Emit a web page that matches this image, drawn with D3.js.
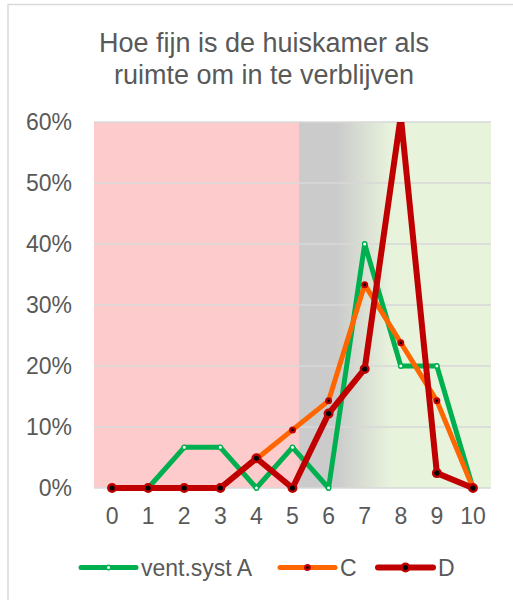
<!DOCTYPE html>
<html>
<head>
<meta charset="utf-8">
<script src="https://cdn.jsdelivr.net/npm/d3@7"></script>
<style>
  html, body { margin: 0; padding: 0; background: #fff; }
  svg { display: block; font-family: "Liberation Sans", Arial, sans-serif; }
</style>
</head>
<body>
<svg id="chart" width="513" height="600"></svg>
<script>
// Scores 0..10 and the share of answers per score
const scores = [0, 1, 2, 3, 4, 5, 6, 7, 8, 9, 10];
const ventA = [0, 0, 1/15, 1/15, 0, 1/15, 0, 6/15, 3/15, 3/15, 0];
const ventC = [0, 0, 0, 0, 1/21, 2/21, 3/21, 7/21, 5/21, 3/21, 0];
const ventD = [0, 0, 0, 0, 2/41, 0, 5/41, 8/41, 25/41, 1/41, 0];
const yTicks = [0, 0.1, 0.2, 0.3, 0.4, 0.5, 0.6];
const titleLines = ["Hoe fijn is de huiskamer als", "ruimte om in te verblijven"];
const seriesNames = ["vent.syst A", "C", "D"];

const svg = d3.select("#chart");
const textColor = "#595959";
const gridColor = "#d9d9d9";

// outer chart frame
svg.append("rect")
  .attr("x", 8).attr("y", 4.5).attr("width", 520).attr("height", 610)
  .attr("fill", "none").attr("stroke", gridColor).attr("stroke-width", 1.5);

const plot = { left: 94, right: 491, top: 122, bottom: 488 };

const x = d3.scaleBand().domain(scores).range([plot.left, plot.right]).padding(0);
const cx = d => x(d) + x.bandwidth() / 2;
const y = d3.scaleLinear().domain([0, 0.6]).range([plot.bottom, plot.top]);

// plot background: red zone, grey middle, green zone
const defs = svg.append("defs");
const grad = defs.append("linearGradient").attr("id", "zones")
  .attr("x1", "0%").attr("x2", "100%").attr("y1", "0%").attr("y2", "0%");
[
  [0, "#fdcbcb"], [0.516, "#fdcbcb"], [0.516, "#cbcbcb"],
  [0.61, "#cbcbcb"], [0.75, "#e8f3dc"], [1, "#e8f3dc"]
].forEach(([o, c]) => grad.append("stop").attr("offset", o).attr("stop-color", c));

defs.append("clipPath").attr("id", "plotClip")
  .append("rect").attr("x", plot.left - 10).attr("y", plot.top)
  .attr("width", plot.right - plot.left + 20).attr("height", plot.bottom - plot.top + 20);

svg.append("rect")
  .attr("x", plot.left).attr("y", plot.top)
  .attr("width", plot.right - plot.left).attr("height", plot.bottom - plot.top)
  .attr("fill", "url(#zones)");

// horizontal gridlines
svg.append("g").selectAll("line").data(yTicks).join("line")
  .attr("x1", plot.left).attr("x2", plot.right)
  .attr("y1", d => y(d)).attr("y2", d => y(d))
  .attr("stroke", gridColor).attr("stroke-width", 1.5);

// y axis labels
const yAxis = svg.append("g")
  .attr("transform", `translate(${plot.left - 22},0)`)
  .call(d3.axisLeft(y).tickValues(yTicks).tickFormat(d3.format(".0%")).tickSize(0).tickPadding(0));
yAxis.select(".domain").remove();
yAxis.selectAll("text").attr("fill", textColor).attr("font-size", 23)
  .attr("font-family", "Liberation Sans, Arial, sans-serif");

// x axis labels
const xAxis = svg.append("g")
  .attr("transform", `translate(0,${plot.bottom + 20})`)
  .call(d3.axisBottom(x).tickSize(0).tickPadding(0));
xAxis.select(".domain").remove();
xAxis.selectAll("text").attr("fill", textColor).attr("font-size", 23)
  .attr("font-family", "Liberation Sans, Arial, sans-serif");

// title
svg.append("g").selectAll("text").data(titleLines).join("text")
  .attr("x", 264).attr("y", (d, i) => 52 + i * 31.5)
  .attr("text-anchor", "middle").attr("fill", textColor).attr("font-size", 27)
  .text(d => d);

const series = [
  { name: seriesNames[0], values: ventA, color: "#00b050", width: 5,
    marker: { r: 2.2, fill: "#ffffff", stroke: "#00b050", sw: 1.4 } },
  { name: seriesNames[1], values: ventC, color: "#ff6600", width: 5,
    marker: { r: 2.4, fill: "#000000", stroke: "#c00000", sw: 2.2 } },
  { name: seriesNames[2], values: ventD, color: "#c00000", width: 6,
    marker: { r: 3.8, fill: "#000000", stroke: "#c00000", sw: 2.4 } }
];

const line = d3.line().x((d, i) => cx(scores[i])).y(d => y(d));
const marks = svg.append("g").attr("clip-path", "url(#plotClip)");

series.forEach(s => {
  const g = marks.append("g");
  g.append("path").datum(s.values)
    .attr("d", line).attr("fill", "none")
    .attr("stroke", s.color).attr("stroke-width", s.width)
    .attr("stroke-linejoin", "round").attr("stroke-linecap", "round");
  g.selectAll("circle").data(s.values).join("circle")
    .attr("cx", (d, i) => cx(scores[i])).attr("cy", d => y(d))
    .attr("r", s.marker.r).attr("fill", s.marker.fill)
    .attr("stroke", s.marker.stroke).attr("stroke-width", s.marker.sw);
});

// legend
const legendY = 567.5;
const legendX = [81, 280, 378];
const legend = svg.append("g");
series.forEach((s, i) => {
  const g = legend.append("g").attr("transform", `translate(${legendX[i]},${legendY})`);
  g.append("line").attr("x1", 0).attr("x2", 55).attr("y1", 0).attr("y2", 0)
    .attr("stroke", s.color).attr("stroke-width", s.width).attr("stroke-linecap", "round");
  g.append("circle").attr("cx", 27.5).attr("cy", 0)
    .attr("r", s.marker.r).attr("fill", s.marker.fill)
    .attr("stroke", s.marker.stroke).attr("stroke-width", s.marker.sw);
  g.append("text").attr("x", 60).attr("y", 0).attr("dy", "0.35em")
    .attr("fill", textColor).attr("font-size", 23).text(s.name);
});
</script>
</body>
</html>
